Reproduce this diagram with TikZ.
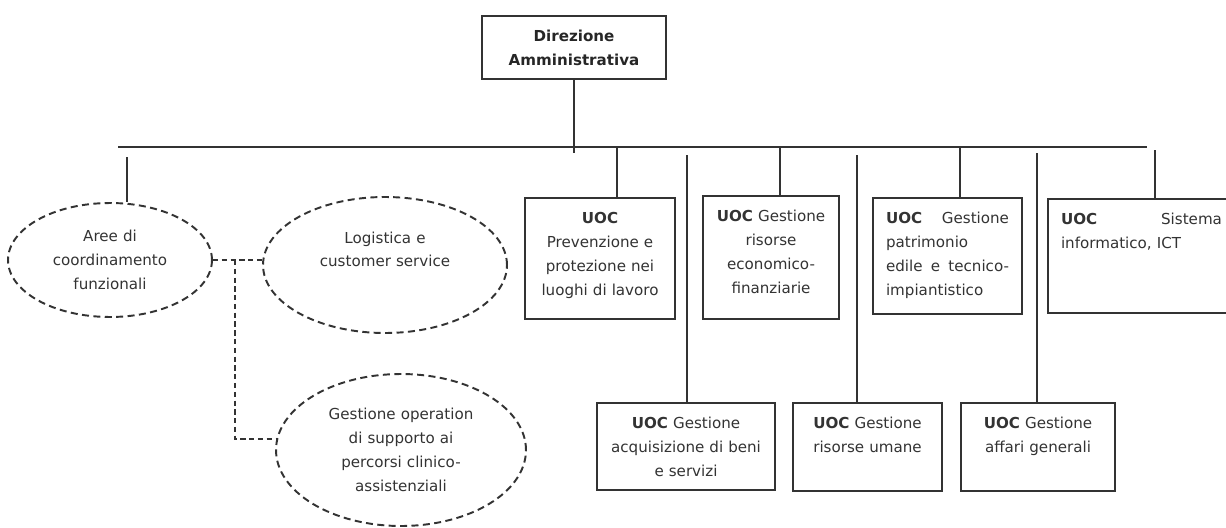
\documentclass[tikz,border=0pt]{standalone}
\usepackage{fontspec}
\setmainfont{DejaVu Sans}
\usepackage{tikz}
\usetikzlibrary{positioning,shapes.geometric,calc}
\newcommand{\orgfont}{\fontsize{8.6pt}{13.6pt}\selectfont}

\begin{document}
\begin{tikzpicture}[x=0.02cm, y=-0.02cm,
    uocbox/.style={draw=black!80, line width=1.1pt, fill=white, anchor=north, font=\orgfont, text=black!80, inner xsep=0.08cm, inner ysep=0pt, text height=0.52cm, align=center},
    justbox/.style={uocbox, inner xsep=0.26cm, align=left},
    areaell/.style={ellipse, draw=black!80, line width=1.1pt, dash pattern=on 4pt off 2.5pt, font=\orgfont, text=black!80, inner sep=0pt, align=center},
    conn/.style={draw=black!80, line width=1.1pt},
    dconn/.style={draw=black!80, line width=1.1pt, dash pattern=on 3pt off 2pt}
    ]
\useasboundingbox (0,0) rectangle (1226,527);

    %vertice
    \node[uocbox, text width=3.52cm, text depth=0.74cm, font=\orgfont\bfseries, text=black!85] (dir) at (574,15) {Direzione\\ Amministrativa};

    %aree di coordinamento
    \node[areaell, minimum width=4.08cm, minimum height=2.28cm, text width=2.6cm] (aree) at (110,260) {Aree di\\ coordinamento\\ funzionali};
    \node[areaell, minimum width=4.88cm, minimum height=2.72cm, text width=3cm, text height=0.24cm, text depth=1.12cm] (logi) at (385,265) {Logistica e\\ customer service};
    \node[areaell, minimum width=5cm, minimum height=3.04cm, text width=3.2cm] (gest) at (401,450) {Gestione operation\\ di supporto ai\\ percorsi clinico-\\ assistenziali};

    %UOC in alto
    \node[uocbox, text width=2.84cm, text depth=1.9cm] (prev) at (600,197) {\textbf{UOC}\\ Prevenzione e\\ protezione nei\\ luoghi di lavoro};
    \node[uocbox, text width=2.56cm, text depth=1.94cm] (econ) at (771,195) {\textbf{UOC} Gestione\\ risorse\\ economico-\\ finanziarie};
    \node[justbox, text width=2.46cm, text depth=1.8cm] (patr) at (947.5,197) {\textbf{UOC} \hfill Gestione\\ patrimonio\\ edile \hfill e \hfill tecnico-\\ impiantistico};
    \node[justbox, text width=3.22cm, text depth=1.76cm] (sist) at (1141.5,198) {\textbf{UOC} \hfill Sistema\\ informatico, ICT};

    %UOC in basso
    \node[uocbox, text width=3.4cm, text depth=1.22cm] (acq) at (686,402) {\textbf{UOC} Gestione\\ acquisizione di beni\\ e servizi};
    \node[uocbox, text width=2.82cm, text depth=1.24cm] (umane) at (867.5,402) {\textbf{UOC} Gestione\\ risorse umane};
    \node[uocbox, text width=2.92cm, text depth=1.24cm] (affari) at (1038,402) {\textbf{UOC} Gestione\\ affari generali};

    %linea principale
    \coordinate (lineL) at (118,147);
    \coordinate (lineR) at (1147,147);
    \draw[conn] (lineL) -- (lineR);
    \draw[conn] (dir.south) -- (dir.south |- 0,153);

    \coordinate (taree) at (127,157);
    \coordinate (tprev) at (617,147);
    \coordinate (tacq) at (687,155);
    \coordinate (tecon) at (780,147);
    \coordinate (tumane) at (857,155);
    \coordinate (tpatr) at (960,147);
    \coordinate (taffari) at (1037,153);
    \coordinate (tsist) at (1155,150);
    \path (taree) edge [conn] (taree |- aree.north);
    \path (tprev) edge [conn] (tprev |- prev.north);
    \path (tacq) edge [conn] (tacq |- acq.north);
    \path (tecon) edge [conn] (tecon |- econ.north);
    \path (tumane) edge [conn] (tumane |- umane.north);
    \path (tpatr) edge [conn] (tpatr |- patr.north);
    \path (taffari) edge [conn] (taffari |- affari.north);
    \path (tsist) edge [conn] (tsist |- sist.north);

    %collegamenti tratteggiati
    \coordinate (jn) at (235,260);
    \draw[dconn] (aree.east) -- (aree.east -| logi.west);
    \draw[dconn] (jn) |- (gest.175);
\end{tikzpicture}
\end{document}
